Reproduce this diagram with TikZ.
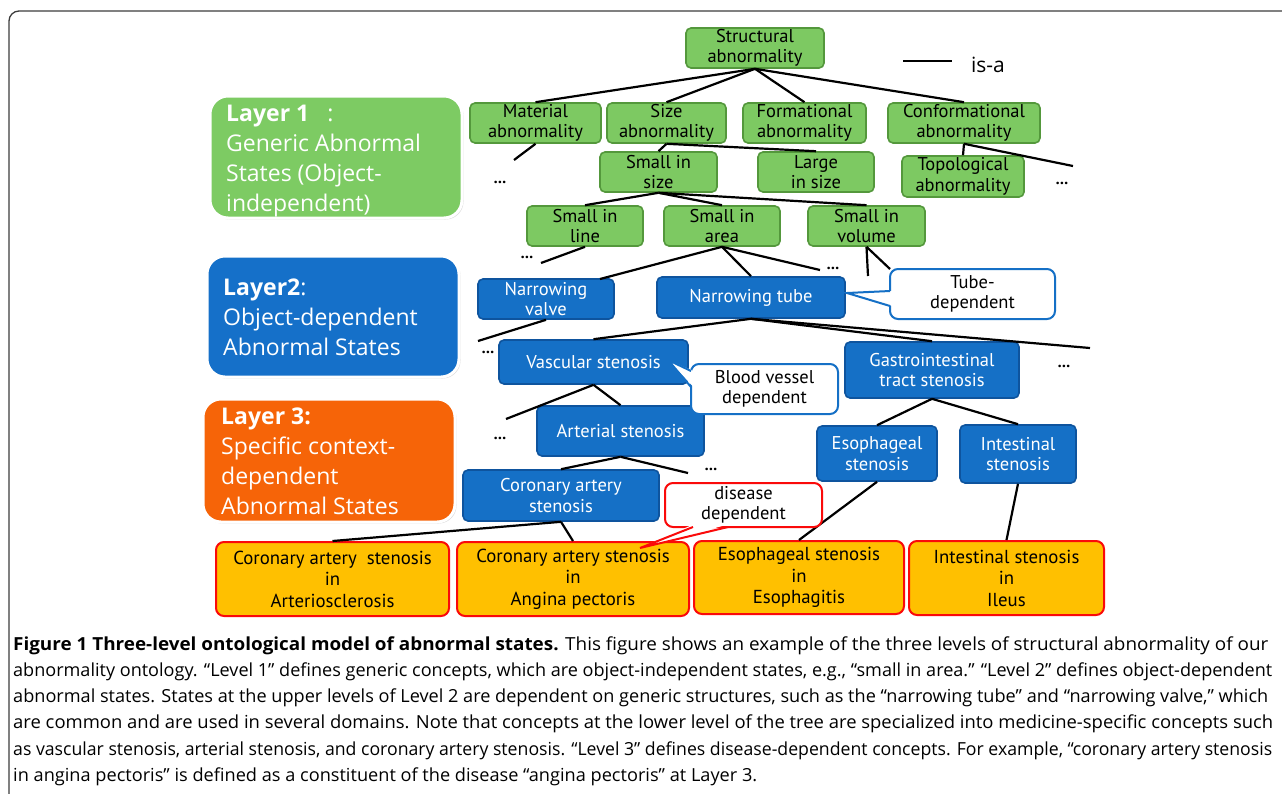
\documentclass[tikz,border=0pt]{standalone}
\usepackage{fontspec}
\usepackage{graphicx}
\setmainfont{Open Sans}
\newfontfamily\nodefont{PT Sans}
\newfontfamily\layerfont{Open Sans}
\newfontfamily\capfont{Open Sans}
\usetikzlibrary{shadows}
\definecolor{gfill}{RGB}{125,201,98}
\definecolor{gline}{RGB}{84,152,60}
\definecolor{bfill}{RGB}{21,112,198}
\definecolor{bline}{RGB}{14,84,158}
\definecolor{ofill}{RGB}{255,192,0}
\definecolor{oline}{RGB}{250,10,10}
\definecolor{lgreen}{RGB}{125,203,99}
\definecolor{lblue}{RGB}{21,112,201}
\definecolor{lorange}{RGB}{246,100,8}
\definecolor{framecol}{RGB}{60,60,60}
\newcommand{\capline}[2]{\resizebox{#1}{\height}{\capfont\fontsize{18}{22}\selectfont #2}}
\begin{document}
\begin{tikzpicture}[x=1pt,y=-1pt,
  sz/.style 2 args={minimum width=#1pt, minimum height=#2pt},
  basebox/.style={rounded corners=5pt, inner sep=0pt, align=center, line width=1.6pt,
    font=\nodefont\fontsize{18.5}{20.5}\selectfont},
  gbox/.style={basebox, draw=gline, fill=gfill, text=black},
  bbox/.style={basebox, draw=bline, fill=bfill, text=white},
  obox/.style={basebox, draw=oline, fill=ofill, text=black, line width=2pt, rounded corners=8pt,
    font=\nodefont\fontsize{18.8}{21.5}\selectfont},
  callout/.style={basebox, fill=white, text=black, line width=2pt, rounded corners=8pt},
  isa/.style={draw=black, line width=2.2pt},
  dots/.style={font=\bfseries\fontsize{15}{15}\selectfont, inner sep=0pt},
  layerbox/.style={draw=white, line width=3pt, rounded corners=18pt, inner sep=0pt,
    drop shadow={opacity=0.3, shadow xshift=1.5pt, shadow yshift=-1.5pt}},
  ltext/.style={anchor=base west, inner sep=0pt, text=white, font=\layerfont\fontsize{23}{30}\selectfont},
  capl/.style={anchor=base west, inner sep=0pt, text=black}
]
\useasboundingbox (0,0) rectangle (1282,793);
\fill[white] (0,0) rectangle (1282,793);
% frame
\coordinate (fr1) at (9,800);
\coordinate (fr2) at (9,11);
\coordinate (fr3) at (1295,11);
\draw[framecol, line width=1.3pt, rounded corners=10pt] (fr1) -- (fr2) -- (fr3);

% layer boxes
\node[layerbox, fill=lgreen, sz={252}{122}] (layer1) at (336,157) {};
\node[layerbox, fill=lblue, sz={252}{121}] (layer2) at (333,316.5) {};
\node[layerbox, fill=lorange, sz={252}{123}] (layer3) at (329,460.5) {};
\node[ltext] (l1a) at (226,121) {\textbf{Layer 1}\hspace{18pt}:};
\node[ltext] (l1b) at (226,151) {Generic Abnormal};
\node[ltext] (l1c) at (226,181) {States (Object-};
\node[ltext] (l1d) at (226,211) {independent)};
\node[ltext] (l2a) at (223,295) {\textbf{Layer2}:};
\node[ltext] (l2b) at (223,325) {Object-dependent};
\node[ltext] (l2c) at (223,355) {Abnormal States};
\node[ltext] (l3a) at (221,424) {\textbf{Layer 3:}};
\node[ltext] (l3b) at (221,454) {Specific context-};
\node[ltext] (l3c) at (221,484) {dependent};
\node[ltext] (l3d) at (221,514) {Abnormal States};

% legend
\coordinate (lg1) at (903,61);
\coordinate (lg2) at (952,61);
\draw[isa] (lg1) -- (lg2);
\node[font=\fontsize{21}{24}\selectfont, inner sep=0pt] (isatxt) at (988,65) {is-a};

% green nodes
\node[gbox, sz={138}{40}] (struct) at (755,48) {Structural\\abnormality};
\node[gbox, sz={131}{40}] (material) at (535.5,123) {Material\\abnormality};
\node[gbox, sz={119}{40}] (size) at (666.5,123) {Size\\abnormality};
\node[gbox, sz={123}{40}] (form) at (804.5,123) {Formational\\abnormality};
\node[gbox, sz={152}{40}] (conf) at (964,123) {Conformational\\abnormality};
\node[gbox, sz={117}{40}] (ssize) at (658.5,172) {Small in\\size};
\node[gbox, sz={116}{40}] (large) at (816,172) {Large\\in size};
\node[gbox, sz={122}{41}] (topo) at (963,176.5) {Topological\\abnormality};
\node[gbox, sz={116}{40}] (sline) at (585,226) {Small in\\line};
\node[gbox, sz={116}{40}] (sarea) at (722,226) {Small in\\area};
\node[gbox, sz={117}{40}] (svol) at (866.5,226) {Small in\\volume};

% blue nodes
\node[bbox, sz={136}{40}] (valve) at (546,299) {Narrowing\\valve};
\node[bbox, sz={188}{41}] (tube) at (751,297.5) {Narrowing tube};
\node[bbox, sz={189}{44}] (vasc) at (593.5,362) {Vascular stenosis};
\node[bbox, sz={174}{56}] (gastro) at (932,370) {Gastrointestinal\\tract stenosis};
\node[bbox, sz={167}{50}] (arter) at (620.5,431) {Arterial stenosis};
\node[bbox, sz={196}{51}] (coron) at (561,495.5) {Coronary artery\\stenosis};
\node[bbox, sz={120}{55}] (esoph) at (877,453.5) {Esophageal\\stenosis};
\node[bbox, sz={116}{58}] (intest) at (1018,454) {Intestinal\\stenosis};

% orange nodes
\node[obox, sz={233}{74}] (arterio) at (332.5,579) {Coronary artery\ \ stenosis\\in\\Arteriosclerosis};
\node[obox, sz={232}{74}] (angina) at (573,579) {Coronary artery stenosis\\in\\Angina pectoris};
\node[obox, sz={210}{73}] (esophag) at (799,577.5) {Esophageal stenosis\\in\\Esophagitis};
\node[obox, sz={195}{74}] (ileus) at (1006.5,578) {Intestinal stenosis\\in\\Ileus};

% dots
\node[dots] (d1) at (500,182) {...};
\node[dots] (d2) at (1062,183) {...};
\node[dots] (d3) at (527,257) {...};
\node[dots] (d4) at (833,268) {...};
\node[dots] (d5) at (488,352) {...};
\node[dots] (d6) at (1064,366) {...};
\node[dots] (d7) at (500,438) {...};
\node[dots] (d8) at (711,469) {...};

% free ends
\coordinate (e1) at (514,160);
\coordinate (e2) at (1073,166);
\coordinate (e3) at (541,263);
\coordinate (e4) at (820,270);
\coordinate (e5) at (868,276);
\coordinate (e6) at (890,269);
\coordinate (e7) at (478,341);
\coordinate (e8) at (1090,348);
\coordinate (e9) at (506,419);
\coordinate (e10) at (688,473);
\coordinate (vtop) at (600,279);

% is-a connectors
\draw[isa] (struct.south) -- (material.north);
\draw[isa] (struct.south) -- (size.north);
\draw[isa] (struct.south) -- (form.north);
\draw[isa] (struct.south) -- (conf.north);
\draw[isa] (material.south) -- (e1);
\draw[isa] (size.south) -- (ssize.north);
\draw[isa] (size.south) -- (large.north);
\draw[isa] (conf.south) -- (topo.north);
\draw[isa] (conf.south) -- (e2);
\draw[isa] (ssize.south) -- (sline.north);
\draw[isa] (ssize.south) -- (sarea.north);
\draw[isa] (ssize.south) -- (svol.north);
\draw[isa] (sline.south) -- (e3);
\draw[isa] (sarea.south) -- (vtop);
\draw[isa] (sarea.south) -- (tube.north);
\draw[isa] (sarea.south) -- (e4);
\draw[isa] (svol.south) -- (e5);
\draw[isa] (svol.south) -- (e6);
\draw[isa] (valve.south) -- (e7);
\draw[isa] (tube.south) -- (vasc.north);
\draw[isa] (tube.south) -- (gastro.north);
\draw[isa] (tube.south) -- (e8);
\draw[isa] (vasc.south) -- (e9);
\draw[isa] (vasc.south) -- (arter.north);
\draw[isa] (arter.south) -- (coron.north);
\draw[isa] (arter.south) -- (e10);
\draw[isa] (gastro.south) -- (esoph.north);
\draw[isa] (gastro.south) -- (intest.north);
\draw[isa] (coron.south) -- (arterio.north);
\draw[isa] (coron.south) -- (angina.north);
\draw[isa] (esoph.south) -- (esophag.north);
\draw[isa] (intest.south) -- (ileus.north);

% callouts
\node[callout, draw=bfill, sz={165}{50}] (tubedep) at (972.5,294) {Tube-\\dependent};
\coordinate (tp1) at (890,291);
\coordinate (tptip) at (847,293);
\coordinate (tp2) at (890,306);
\fill[white] ([xshift=2.5pt]tp1) -- (tptip) -- ([xshift=2.5pt]tp2) -- cycle;
\draw[bfill, line width=2pt, line join=miter] (tp1) -- (tptip) -- (tp2);

\node[callout, draw=bfill, sz={147}{50}] (blood) at (764.5,389) {Blood vessel\\dependent};
\coordinate (bp1) at (691,371);
\coordinate (bptip) at (668,360);
\coordinate (bp2) at (691,387);
\fill[white] ([xshift=2.5pt]bp1) -- (bptip) -- ([xshift=2.5pt]bp2) -- cycle;
\draw[bfill, line width=2pt] (bp1) -- (bptip) -- (bp2);

\node[callout, draw=oline, sz={157}{44}] (disease) at (743.5,505) {disease\\dependent};
\coordinate (dp1) at (693,527);
\coordinate (dptip) at (640,548);
\coordinate (dp2) at (728,527);
\fill[white] ([yshift=2.5pt]dp1) -- (dptip) -- ([yshift=2.5pt]dp2) -- cycle;
\draw[oline, line width=2pt] (dp1) -- (dptip) -- (dp2);

% caption
\node[capl] (c1) at (13,650) {\capline{1255pt}{\textbf{Figure 1 Three-level ontological model of abnormal states.} This figure shows an example of the three levels of structural abnormality of our}};
\node[capl] (c2) at (13,676) {\capline{1259pt}{abnormality ontology. “Level 1” defines generic concepts, which are object-independent states, e.g., “small in area.” “Level 2” defines object-dependent}};
\node[capl] (c3) at (13,702) {\capline{1255pt}{abnormal states. States at the upper levels of Level 2 are dependent on generic structures, such as the “narrowing tube” and “narrowing valve,” which}};
\node[capl] (c4) at (13,728) {\capline{1260pt}{are common and are used in several domains. Note that concepts at the lower level of the tree are specialized into medicine-specific concepts such}};
\node[capl] (c5) at (13,755) {\capline{1259pt}{as vascular stenosis, arterial stenosis, and coronary artery stenosis. “Level 3” defines disease-dependent concepts. For example, “coronary artery stenosis}};
\node[capl] (c6) at (13,781) {\capline{744pt}{in angina pectoris” is defined as a constituent of the disease “angina pectoris” at Layer 3.}};
\end{tikzpicture}
\end{document}
